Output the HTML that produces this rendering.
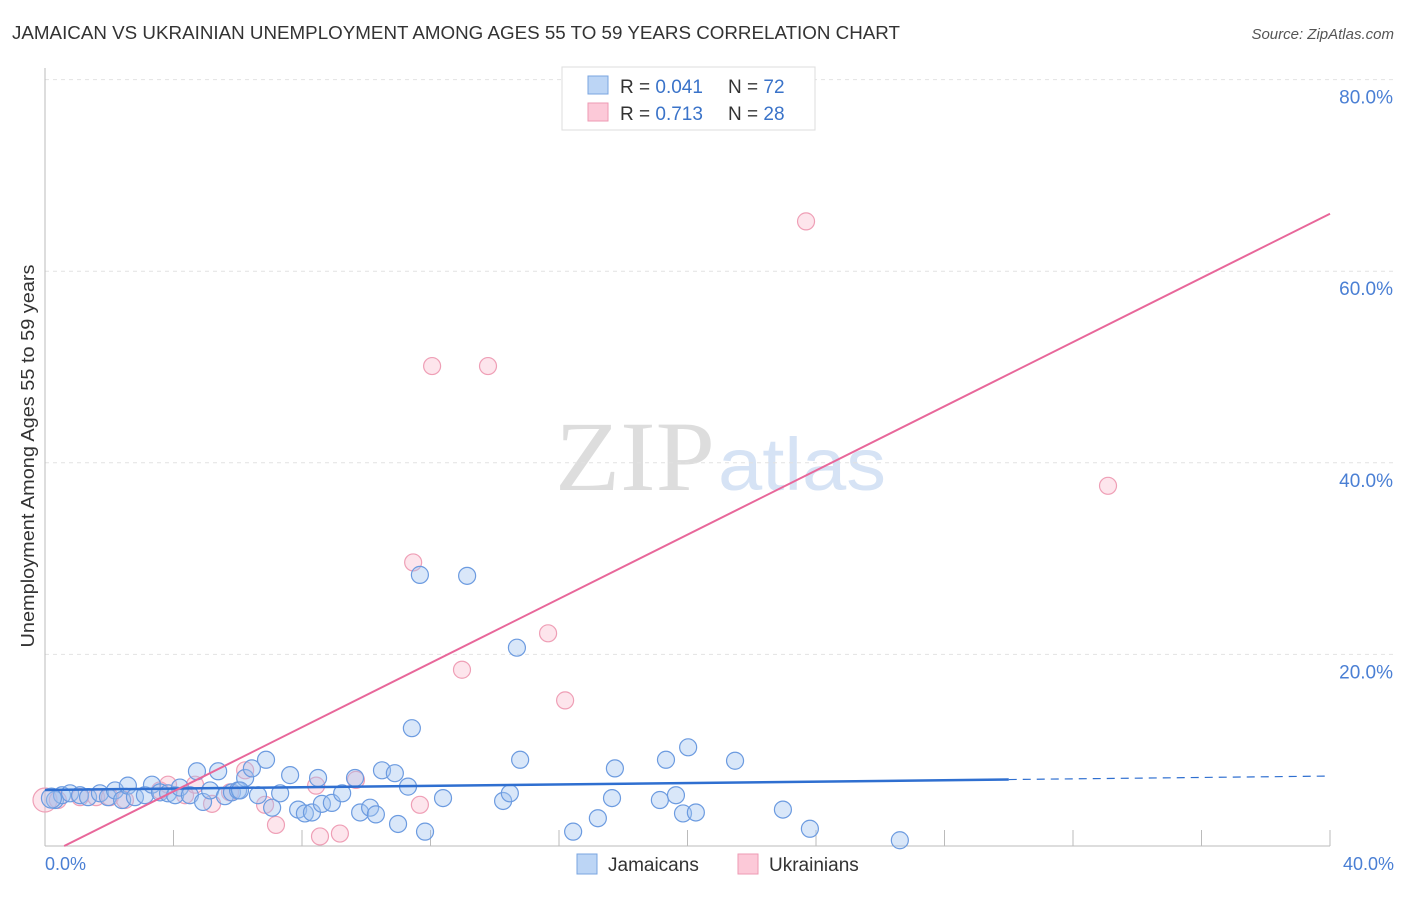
<!DOCTYPE html>
<html><head><meta charset="utf-8"><style>
body{margin:0;background:#fff;font-family:"Liberation Sans",sans-serif}
</style></head><body>
<svg width="1406" height="892" xmlns="http://www.w3.org/2000/svg">
<text x="12" y="39" font-size="18" fill="#333" textLength="888" lengthAdjust="spacingAndGlyphs">JAMAICAN VS UKRAINIAN UNEMPLOYMENT AMONG AGES 55 TO 59 YEARS CORRELATION CHART</text>
<text x="1394" y="39" font-size="15" fill="#555" font-style="italic" text-anchor="end">Source: ZipAtlas.com</text>
<text x="555" y="490" font-size="100" fill="#ddd" textLength="160" lengthAdjust="spacingAndGlyphs" font-family="Liberation Serif">ZIP</text>
<text x="718" y="490" font-size="74" fill="#d6e3f5" textLength="168" lengthAdjust="spacingAndGlyphs">atlas</text>
<g id="grid"></g>
<g id="axes"></g>
<g id="marks"></g>
<text transform="translate(34,456) rotate(-90)" font-size="18" fill="#333" text-anchor="middle" textLength="383" lengthAdjust="spacingAndGlyphs">Unemployment Among Ages 55 to 59 years</text>
<text x="45" y="870" font-size="18" fill="#4a7fd4">0.0%</text>
<text x="1394" y="870" font-size="18" fill="#4a7fd4" text-anchor="end">40.0%</text>
<g>
<rect x="562" y="67" width="253" height="63" fill="#fff" stroke="#ddd"/>
<rect x="588" y="76" width="20" height="18" fill="#bcd5f5" stroke="#7aa5e0"/>
<rect x="588" y="103" width="20" height="18" fill="#fcc9d8" stroke="#ee9ab3"/>
<text x="620" y="93" font-size="19" fill="#333">R = <tspan fill="#3a73c9">0.041</tspan><tspan x="728">N = </tspan><tspan fill="#3a73c9">72</tspan></text>
<text x="620" y="120" font-size="19" fill="#333">R = <tspan fill="#3a73c9">0.713</tspan><tspan x="728">N = </tspan><tspan fill="#3a73c9">28</tspan></text>
</g>
<g>
<rect x="577" y="854" width="20" height="20" fill="#bcd5f5" stroke="#7aa5e0"/>
<text x="608" y="871" font-size="19" fill="#333">Jamaicans</text>
<rect x="738" y="854" width="20" height="20" fill="#fcc9d8" stroke="#ee9ab3"/>
<text x="769" y="871" font-size="19" fill="#333">Ukrainians</text>
</g>
</svg>
<script>
const yTicks=[20,40,60,80];
const yTickLabels=["20.0%","40.0%","60.0%","80.0%"];
const xTicks=[0,4,8,12,16,20,24,28,32,36,40];
const jamX=[0.31,0.53,0.78,1.09,1.34,1.71,1.96,2.18,2.40,2.58,2.80,3.11,3.33,3.58,3.83,4.05,4.20,4.51,4.73,4.92,5.14,5.39,5.60,5.82,6.01,6.23,6.44,6.63,6.88,7.07,7.32,7.63,7.88,8.09,8.31,8.50,8.62,8.93,9.25,9.65,9.81,10.12,10.30,10.49,10.89,10.99,11.30,11.67,11.83,12.39,13.14,14.26,14.47,14.69,14.79,16.44,17.21,17.65,17.74,19.14,19.33,19.64,19.86,20.02,20.26,21.48,22.97,23.81,26.61,11.42,6.07,0.2];
const jamY=[4.8,5.3,5.5,5.3,5.1,5.5,5.1,5.8,4.8,6.3,5.1,5.3,6.4,5.6,5.5,5.3,6.1,5.3,7.8,4.6,5.8,7.8,5.2,5.6,5.8,7.1,8.1,5.3,9.0,4.0,5.5,7.4,3.8,3.4,3.5,7.1,4.4,4.5,5.5,7.1,3.5,4.0,3.3,7.9,7.6,2.3,6.2,28.3,1.5,5.0,28.2,4.7,5.5,20.7,9.0,1.5,2.9,5.0,8.1,4.8,9.0,5.3,3.4,10.3,3.5,8.9,3.8,1.8,0.6,12.3,5.8,5.0];
const ukrX=[0,0.40,1.09,1.59,2.02,2.49,3.58,3.83,4.36,4.67,5.20,5.76,6.23,6.85,7.19,8.44,8.56,9.18,9.68,11.46,11.67,12.05,12.98,13.79,15.66,16.19,23.69,33.09];
const ukrY=[4.8,4.8,5.1,5.1,5.1,4.8,5.8,6.4,5.3,6.4,4.4,5.6,7.9,4.3,2.2,6.3,1.0,1.3,6.9,29.6,4.3,50.1,18.4,50.1,22.2,15.2,65.2,37.6];
const jamTrend=[5.85,7.3];
const ukrTrend=[-1.0,66.0];
const NS="http://www.w3.org/2000/svg";
const sx=v=>45+v*32.125, sy=v=>846-v*9.58;
function mk(tag,attrs,parent){const e=document.createElementNS(NS,tag);for(const k in attrs)e.setAttribute(k,attrs[k]);document.getElementById(parent).appendChild(e);return e;}
yTicks.forEach((t,i)=>{
 const g=mk('line',{x1:45,x2:1394,y1:sy(t),y2:sy(t),stroke:'#e2e2e2','stroke-dasharray':'4,4'},'grid');
 
 
 const l=mk('text',{x:1393,y:sy(t)+24,'font-size':19,fill:'#4a7fd4','text-anchor':'end'},'grid');
 l.textContent=yTickLabels[i];
 
 
});
const ya=mk('line',{x1:45,x2:45,y1:68,y2:846,stroke:'#bbb'},'axes');


const xa=mk('line',{x1:45,x2:1330,y1:846,y2:846,stroke:'#bbb'},'axes');


xTicks.forEach(t=>{
 const k=mk('line',{x1:sx(t),x2:sx(t),y1:830,y2:846,stroke:'#bbb'},'axes');
 
 
});
ukrX.forEach((x,i)=>{
 const c=mk('circle',{cx:sx(x),cy:sy(ukrY[i]),r:i==0?12:8.5,fill:'rgba(248,180,200,0.35)',stroke:'#ef9fb6','stroke-width':1.2},'marks');
 
 
});
jamX.forEach((x,i)=>{
 const c=mk('circle',{cx:sx(x),cy:sy(jamY[i]),r:i==71?10:8.5,fill:'rgba(160,195,240,0.4)',stroke:'#6c9be0','stroke-width':1.2},'marks');
 
 
});
const jt=(x)=>jamTrend[0]+(jamTrend[1]-jamTrend[0])*x/40;
const l1=mk('line',{x1:sx(0),y1:sy(jt(0)),x2:sx(30),y2:sy(jt(30)),stroke:'#2f6fd0','stroke-width':2.5},'marks');


const l2=mk('line',{x1:sx(30),y1:sy(jt(30)),x2:sx(40),y2:sy(jt(40)),stroke:'#2f6fd0','stroke-width':1.2,'stroke-dasharray':'8,6'},'marks');


const ut=(x)=>ukrTrend[0]+(ukrTrend[1]-ukrTrend[0])*x/40;
const x0=-ukrTrend[0]/((ukrTrend[1]-ukrTrend[0])/40);
const l3=mk('line',{x1:sx(x0),y1:sy(0),x2:sx(40),y2:sy(ut(40)),stroke:'#e8679a','stroke-width':2},'marks');


</script>
</body></html>
